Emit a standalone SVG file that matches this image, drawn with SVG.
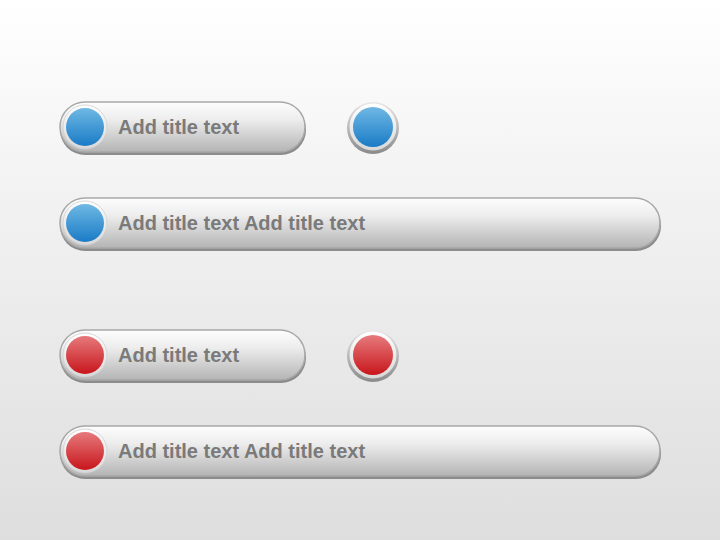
<svg xmlns="http://www.w3.org/2000/svg" width="720" height="540" viewBox="0 0 720 540">
<defs>
<linearGradient id="bg" x1="0" y1="0" x2="0" y2="1"><stop offset="0" stop-color="#ffffff"/><stop offset="0.3" stop-color="#f4f4f4"/><stop offset="1" stop-color="#dedede"/></linearGradient>
<linearGradient id="pill" x1="0" y1="0" x2="0" y2="1"><stop offset="0" stop-color="#fdfdfd"/><stop offset="0.35" stop-color="#ededed"/><stop offset="1" stop-color="#b4b4b4"/></linearGradient>
<linearGradient id="ring" x1="0" y1="0" x2="0" y2="1"><stop offset="0" stop-color="#ffffff"/><stop offset="1" stop-color="#d8d8d8"/></linearGradient>
<linearGradient id="outer" x1="0" y1="0" x2="0" y2="1"><stop offset="0" stop-color="#e8e8e8"/><stop offset="1" stop-color="#8a8a8a"/></linearGradient>
<linearGradient id="blue" x1="0" y1="0" x2="0" y2="1"><stop offset="0" stop-color="#6fb8e4"/><stop offset="1" stop-color="#1a7bc6"/></linearGradient>
<linearGradient id="red" x1="0" y1="0" x2="0" y2="1"><stop offset="0" stop-color="#e67a7c"/><stop offset="1" stop-color="#c8161c"/></linearGradient>
<g id="pillShort">
<rect x="60" y="3" width="246" height="50" rx="25" fill="#8c8c8c"/>
<rect x="60" y="0" width="245" height="50" rx="25" fill="url(#pill)" stroke="#a8a8a8" stroke-width="1.5"/>
</g>
<g id="pillLong">
<rect x="60" y="3" width="601" height="50" rx="25" fill="#8c8c8c"/>
<rect x="60" y="0" width="600" height="50" rx="25" fill="url(#pill)" stroke="#a8a8a8" stroke-width="1.5"/>
</g>
</defs>
<style>
.t{font-family:"Liberation Sans",Arial,sans-serif;font-weight:bold;font-size:20px;fill:#7a7a7a}
.ring{fill:url(#ring);stroke:#cfcfcf;stroke-width:0.8}
</style>
<rect width="720" height="540" fill="url(#bg)"/>
<g id="row1">
<use href="#pillShort" y="102"/>
<circle class="ring" cx="85" cy="127" r="22"/>
<circle cx="85" cy="127" r="19" fill="url(#blue)"/>
<text class="t" x="118" y="134">Add title text</text>
</g>
<g id="dot1">
<circle cx="373" cy="128" r="26" fill="url(#outer)"/>
<circle cx="373" cy="127" r="23.5" fill="url(#ring)"/>
<circle cx="373" cy="127" r="20" fill="url(#blue)"/>
</g>
<g id="row2">
<use href="#pillLong" y="198"/>
<circle class="ring" cx="85" cy="223" r="22"/>
<circle cx="85" cy="223" r="19" fill="url(#blue)"/>
<text class="t" x="118" y="230">Add title text Add title text</text>
</g>
<g id="row3">
<use href="#pillShort" y="330"/>
<circle class="ring" cx="85" cy="355" r="22"/>
<circle cx="85" cy="355" r="19" fill="url(#red)"/>
<text class="t" x="118" y="362">Add title text</text>
</g>
<g id="dot2">
<circle cx="373" cy="356" r="26" fill="url(#outer)"/>
<circle cx="373" cy="355" r="23.5" fill="url(#ring)"/>
<circle cx="373" cy="355" r="20" fill="url(#red)"/>
</g>
<g id="row4">
<use href="#pillLong" y="426"/>
<circle class="ring" cx="85" cy="451" r="22"/>
<circle cx="85" cy="451" r="19" fill="url(#red)"/>
<text class="t" x="118" y="458">Add title text Add title text</text>
</g>
</svg>
